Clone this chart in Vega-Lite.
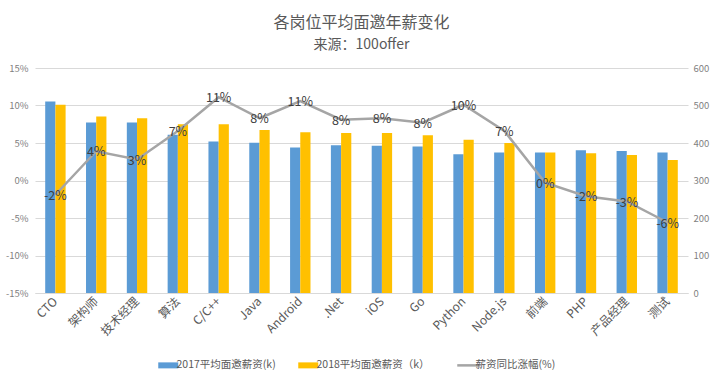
{
  "$schema": "https://vega.github.io/schema/vega-lite/v6.json",
  "autosize": "none",
  "width": 653,
  "height": 225,
  "padding": {"left": 35, "top": 68, "right": 32, "bottom": 92},
  "background": "white",
  "title": {
    "text": "各岗位平均面邀年薪变化",
    "subtitle": "来源：100offer",
    "anchor": "middle",
    "frame": "group",
    "font": "Noto Sans CJK SC",
    "fontSize": 16,
    "fontWeight": "normal",
    "color": "#595959",
    "subtitleFont": "Noto Sans CJK SC",
    "subtitleFontSize": 14,
    "subtitleColor": "#595959",
    "subtitlePadding": 7,
    "offset": 11
  },
  "config": {
    "font": "Noto Sans CJK SC",
    "view": {"stroke": null},
    "axis": {"labelColor": "#595959", "titleColor": "#595959", "labelOverlap": false}
  },
  "datasets": {
    "bars": [
      {"job": "CTO", "series": "2017平均面邀薪资(k)", "value": 511},
      {"job": "CTO", "series": "2018平均面邀薪资（k）", "value": 502},
      {"job": "架构师", "series": "2017平均面邀薪资(k)", "value": 455},
      {"job": "架构师", "series": "2018平均面邀薪资（k）", "value": 471},
      {"job": "技术经理", "series": "2017平均面邀薪资(k)", "value": 455},
      {"job": "技术经理", "series": "2018平均面邀薪资（k）", "value": 466},
      {"job": "算法", "series": "2017平均面邀薪资(k)", "value": 422},
      {"job": "算法", "series": "2018平均面邀薪资（k）", "value": 450},
      {"job": "C/C++", "series": "2017平均面邀薪资(k)", "value": 404},
      {"job": "C/C++", "series": "2018平均面邀薪资（k）", "value": 450},
      {"job": "Java", "series": "2017平均面邀薪资(k)", "value": 401},
      {"job": "Java", "series": "2018平均面邀薪资（k）", "value": 435},
      {"job": "Android", "series": "2017平均面邀薪资(k)", "value": 388},
      {"job": "Android", "series": "2018平均面邀薪资（k）", "value": 429},
      {"job": ".Net", "series": "2017平均面邀薪资(k)", "value": 394},
      {"job": ".Net", "series": "2018平均面邀薪资（k）", "value": 427},
      {"job": "iOS", "series": "2017平均面邀薪资(k)", "value": 393},
      {"job": "iOS", "series": "2018平均面邀薪资（k）", "value": 427},
      {"job": "Go", "series": "2017平均面邀薪资(k)", "value": 391},
      {"job": "Go", "series": "2018平均面邀薪资（k）", "value": 421},
      {"job": "Python", "series": "2017平均面邀薪资(k)", "value": 370},
      {"job": "Python", "series": "2018平均面邀薪资（k）", "value": 409},
      {"job": "Node.js", "series": "2017平均面邀薪资(k)", "value": 375},
      {"job": "Node.js", "series": "2018平均面邀薪资（k）", "value": 400},
      {"job": "前端", "series": "2017平均面邀薪资(k)", "value": 375},
      {"job": "前端", "series": "2018平均面邀薪资（k）", "value": 375},
      {"job": "PHP", "series": "2017平均面邀薪资(k)", "value": 381},
      {"job": "PHP", "series": "2018平均面邀薪资（k）", "value": 373},
      {"job": "产品经理", "series": "2017平均面邀薪资(k)", "value": 379},
      {"job": "产品经理", "series": "2018平均面邀薪资（k）", "value": 368},
      {"job": "测试", "series": "2017平均面邀薪资(k)", "value": 375},
      {"job": "测试", "series": "2018平均面邀薪资（k）", "value": 355}
    ],
    "rate": [
      {"job": "CTO", "pct": -0.019, "label": "-2%"},
      {"job": "架构师", "pct": 0.039, "label": "4%"},
      {"job": "技术经理", "pct": 0.028, "label": "3%"},
      {"job": "算法", "pct": 0.066, "label": "7%"},
      {"job": "C/C++", "pct": 0.111, "label": "11%"},
      {"job": "Java", "pct": 0.083, "label": "8%"},
      {"job": "Android", "pct": 0.106, "label": "11%"},
      {"job": ".Net", "pct": 0.081, "label": "8%"},
      {"job": "iOS", "pct": 0.083, "label": "8%"},
      {"job": "Go", "pct": 0.077, "label": "8%"},
      {"job": "Python", "pct": 0.101, "label": "10%"},
      {"job": "Node.js", "pct": 0.066, "label": "7%"},
      {"job": "前端", "pct": -0.003, "label": "0%"},
      {"job": "PHP", "pct": -0.021, "label": "-2%"},
      {"job": "产品经理", "pct": -0.028, "label": "-3%"},
      {"job": "测试", "pct": -0.056, "label": "-6%"}
    ]
  },
  "layer": [
    {
      "data": {"name": "bars"},
      "mark": {"type": "bar"},
      "encoding": {
        "x": {
          "field": "job",
          "type": "nominal",
          "scale": {
            "domain": ["CTO", "架构师", "技术经理", "算法", "C/C++", "Java", "Android", ".Net", "iOS", "Go", "Python", "Node.js", "前端", "PHP", "产品经理", "测试"],
            "paddingInner": 0.5,
            "paddingOuter": 0.25
          },
          "axis": {
            "title": null,
            "labelAngle": -45,
            "labelAlign": "right",
            "labelBaseline": "middle",
            "labelFontSize": 12,
            "labelPadding": 6,
            "labelOverlap": false,
            "ticks": false,
            "domainColor": "#D9D9D9",
            "labelColor": "#595959"
          }
        },
        "xOffset": {
          "field": "series",
          "type": "nominal",
          "scale": {"paddingInner": 0, "paddingOuter": 0}
        },
        "y": {
          "field": "value",
          "type": "quantitative",
          "scale": {"domain": [0, 600], "nice": false},
          "axis": {
            "orient": "right",
            "title": null,
            "values": [0, 100, 200, 300, 400, 500, 600],
            "grid": false,
            "domain": false,
            "ticks": false,
            "labelOverlap": false,
            "labelFontSize": 9.5,
            "labelColor": "#7F7F7F",
            "labelPadding": 5
          }
        },
        "color": {
          "field": "series",
          "type": "nominal",
          "scale": {
            "domain": ["2017平均面邀薪资(k)", "2018平均面邀薪资（k）", "薪资同比涨幅(%)"],
            "range": ["#5B9BD5", "#FFC000", "#A5A5A5"]
          },
          "legend": {
            "title": null,
            "orient": "none",
            "legendX": 128,
            "legendY": 292,
            "direction": "horizontal",
            "labelFontSize": 10.5,
            "labelColor": "#595959",
            "labelOffset": 3,
            "columnPadding": 22,
            "symbolSize": 400,
            "encode": {
              "symbols": {
                "update": {
                  "shape": {"signal": "datum.value === '薪资同比涨幅(%)' ? 'stroke' : 'M-1,-0.3H1V0.3H-1Z'"},
                  "fill": {"signal": "scale('color', datum.value)"},
                  "stroke": {"signal": "scale('color', datum.value)"},
                  "strokeWidth": {"signal": "datum.value === '薪资同比涨幅(%)' ? 2.5 : 0"},
                  "opacity": {"value": 1}
                }
              }
            }
          }
        }
      }
    },
    {
      "data": {"name": "rate"},
      "encoding": {
        "x": {"field": "job", "type": "nominal"},
        "y": {
          "field": "pct",
          "type": "quantitative",
          "scale": {"domain": [-0.15, 0.15], "nice": false},
          "axis": {
            "orient": "left",
            "title": null,
            "format": ".0%",
            "labelExpr": "replace(datum.label, '−', '-')",
            "values": [-0.15, -0.1, -0.05, 0, 0.05, 0.1, 0.15],
            "grid": true,
            "gridColor": "#D9D9D9",
            "domain": false,
            "ticks": false,
            "labelOverlap": false,
            "labelFontSize": 9.5,
            "labelColor": "#7F7F7F",
            "labelPadding": 7
          }
        }
      },
      "layer": [
        {
          "mark": {"type": "line", "strokeWidth": 2.5, "color": "#A5A5A5"},
          "encoding": {
            "color": {"datum": "薪资同比涨幅(%)"}
          }
        },
        {
          "mark": {"type": "text", "fontSize": 12.5, "color": "#404040", "baseline": "middle", "dy": 1},
          "encoding": {
            "text": {"field": "label", "type": "nominal"}
          }
        }
      ]
    }
  ],
  "resolve": {"scale": {"y": "independent"}}
}
